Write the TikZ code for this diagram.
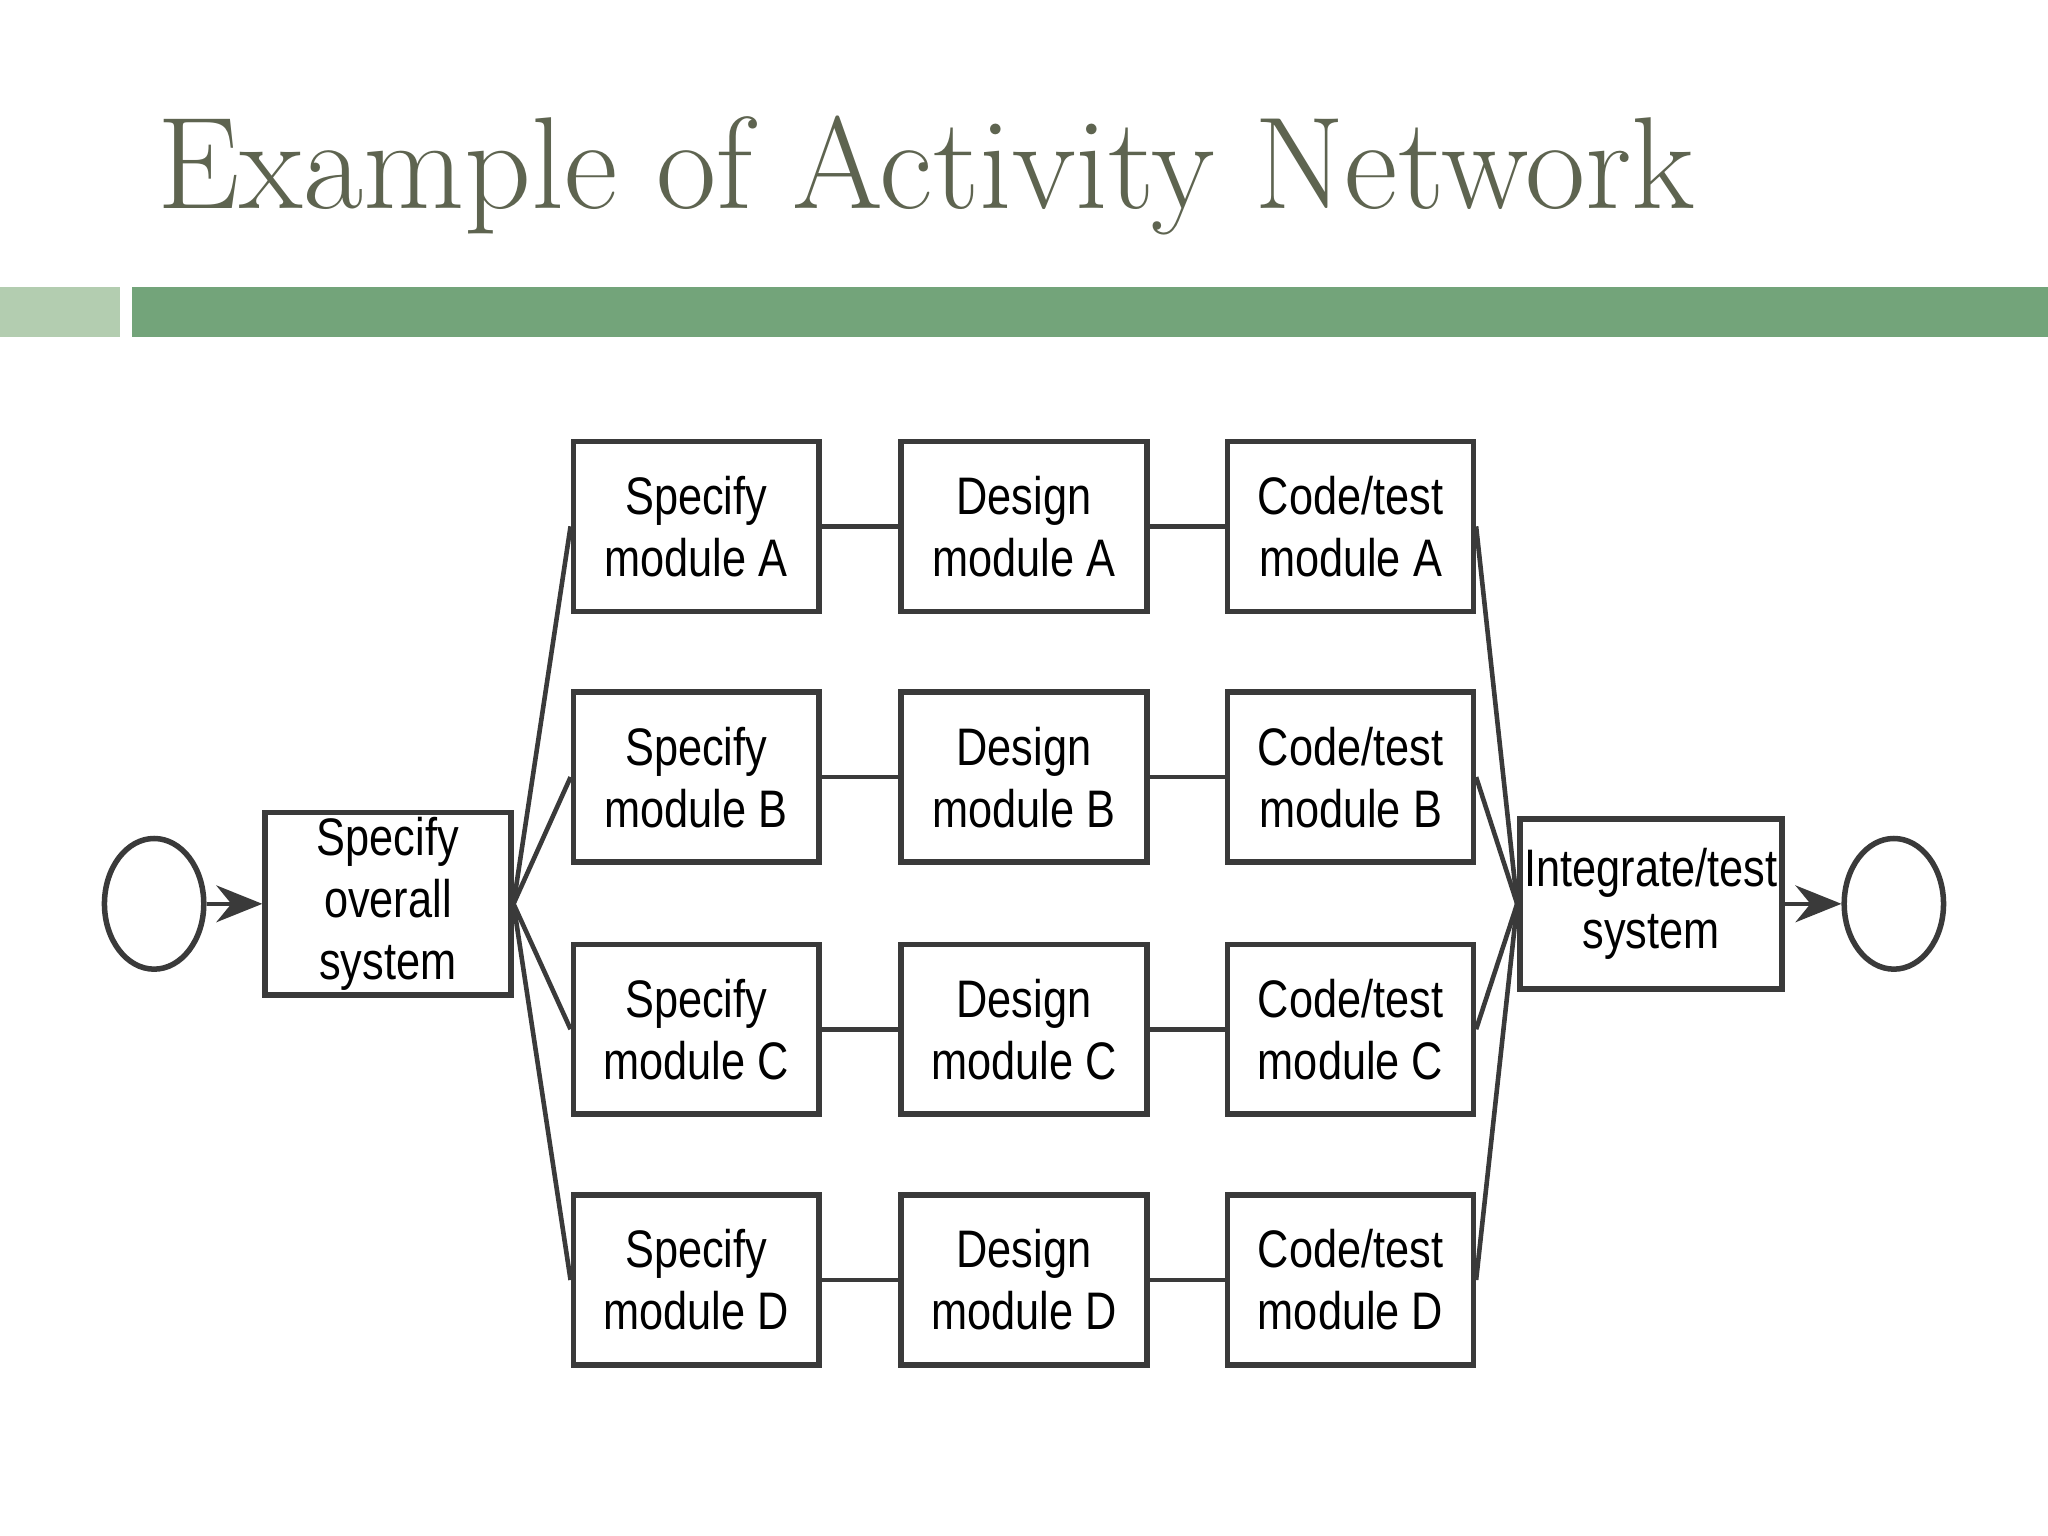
\documentclass[tikz,border=0pt]{standalone}
\usepackage{fontspec}
\newfontfamily\boxfont{Liberation Sans}[FakeStretch=0.82]
\usetikzlibrary{positioning,arrows.meta,shapes.geometric}
\definecolor{titlegray}{HTML}{5E6450}
\definecolor{barlight}{HTML}{B3CDB0}
\definecolor{bardark}{HTML}{73A47A}
\definecolor{linegray}{HTML}{3A3A3A}
\tikzset{
  task/.style={draw=linegray, line width=1.2pt, minimum width=1.88cm, minimum height=1.30cm,
    align=center, font=\boxfont\fontsize{11.5}{13.5}\selectfont, inner sep=1pt},
  event/.style={draw=linegray, line width=1.2pt, ellipse, minimum width=0.76cm, minimum height=1.0cm, inner sep=0pt},
  link/.style={draw=linegray, line width=1pt}
}
\begin{document}
\begin{tikzpicture}[x=0.01cm, y=0.01cm]
  \useasboundingbox[fill=white] (0,0) rectangle (1568,-1176);
  % title and bars
  \node[anchor=base west, text=titlegray, font=\fontsize{28.5}{32}\selectfont, inner sep=0] (title) at (120,-160) {Example of Activity Network};
  \fill[barlight] (0,-220) rectangle (92,-258);
  \fill[bardark] (101,-220) rectangle (1568,-258);
  % network
  \node[event] (start) at (118,-692) {};
  \node[task] (overall) at (297,-692) {Specify\\overall\\system};
  \node[task] (integ) at (1264,-692) {Integrate/test\\system};
  \node[event] (stop) at (1450,-692) {};
  \foreach \m/\y in {A/-403, B/-595, C/-788, D/-980} {
    \node[task] (spec\m) at (533,\y) {Specify\\module \m};
    \node[task] (des\m) at (784,\y) {Design\\module \m};
    \node[task] (code\m) at (1034,\y) {Code/test\\module \m};
    \draw[link] (spec\m) -- (des\m);
    \draw[link] (des\m) -- (code\m);
    \draw[link] (overall.east) -- (spec\m.west);
    \draw[link] (code\m.east) -- (integ.west);
  }
  \draw[link, -{Stealth[length=10pt,width=8pt]}] (start) -- (overall);
  \draw[link, -{Stealth[length=10pt,width=8pt]}] (integ) -- (stop);
\end{tikzpicture}
\end{document}
